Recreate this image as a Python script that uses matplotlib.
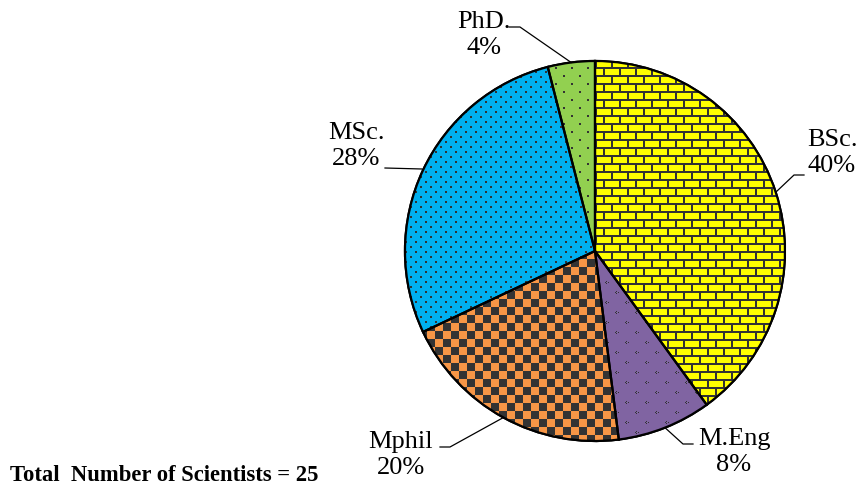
import numpy as np
import matplotlib
matplotlib.use("Agg")
import matplotlib.pyplot as plt

# ---- data ----
categories = ["BSc.", "M.Eng", "Mphil", "MSc.", "PhD."]
counts = [10, 2, 5, 7, 1]
pct_labels = ["40%", "8%", "20%", "28%", "4%"]
colors = ["#FFFF00", "#8064A2", "#F79646", "#00B0F0", "#92D050"]
total_text = "Total  Number of Scientists = 25"

W_PX, H_PX = 861, 489
DPI = 100
CX, CY, R = 595, 252, 190       # pie centre / radius in pixels
HALF = 200                      # half size of axes box in pixels

fig = plt.figure(figsize=(W_PX / DPI, H_PX / DPI), dpi=DPI)
ax = fig.add_axes([(CX - HALF) / W_PX, (H_PX - CY - HALF) / H_PX,
                   2 * HALF / W_PX, 2 * HALF / H_PX])
ax.axis("off")
lim = HALF / R

SERIF = ["Liberation Serif", "DejaVu Serif"]

wedges, _ = ax.pie(counts, colors=colors, startangle=90, counterclock=False,
                   radius=1, wedgeprops=dict(edgecolor="black", linewidth=1.6))

# ---- textures ----
N = 2 * HALF
yy, xx = np.mgrid[0:N, 0:N]
DARK = np.array([0.2, 0.2, 0.2])


def hex2rgb(h):
    h = h.lstrip("#")
    return np.array([int(h[i:i + 2], 16) / 255 for i in (0, 2, 4)])


def brick():
    off = ((yy // 8) % 2) * 8
    return ((yy % 8) < 2) | (((xx + off) % 16) < 2)


def chevrons():
    m = np.zeros((N, N), bool)
    shape = [(0, 1), (1, 0), (2, 1), (1, 3)]
    for (dy, dx) in shape:
        for oy, ox in [(0, 0), (10, 10)]:
            m |= (((yy - dy - oy) % 20) == 0) & (((xx - dx - ox) % 20) == 0)
    return m


def checker():
    return ((xx // 8 + yy // 8) % 2) == 0


def dense_dots():
    off = ((yy // 5) % 2) * 5
    return ((yy % 5) < 2) & (((xx + off) % 10) < 2)


def sparse_dots():
    off = ((yy // 8) % 2) * 8
    return ((yy % 8) < 2) & (((xx + off) % 16) < 2)


masks = [brick(), chevrons(), checker(), dense_dots(), sparse_dots()]

for w, col, m in zip(wedges, colors, masks):
    img = np.empty((N, N, 3))
    img[:] = hex2rgb(col)
    img[m] = DARK
    im = ax.imshow(img, extent=(-lim, lim, -lim, lim), interpolation="nearest",
                   zorder=1.5)
    im.set_clip_path(w)

# outlines on top
outline, _ = ax.pie(counts, startangle=90, counterclock=False, radius=1,
                    wedgeprops=dict(fill=False, edgecolor="black", linewidth=1.6))
for p in outline:
    p.set_zorder(3)

# ---- labels with leader lines ----
def px2d(px, py):
    return (px - CX) / R, (CY - py) / R

# (elbow, end, text centre) in pixel layout
layout = [
    ((794, 176), (804, 176), (832, 153)),
    ((683, 445), (693, 445), (734, 452)),
    ((450, 448), (440, 448), (401, 455)),
    ((422, 170), (385, 169), (356, 146)),
    ((520, 28), (509, 28), (484, 35)),
]

for w, cat, pct, (elb, end, tc) in zip(wedges, categories, pct_labels, layout):
    mid = np.radians((w.theta1 + w.theta2) / 2)
    sx, sy = np.cos(mid), np.sin(mid)
    ex, ey = px2d(*elb)
    nx, ny = px2d(*end)
    ax.plot([sx, ex, nx], [sy, ey, ny], color="black", lw=0.9, zorder=4,
            clip_on=False)
    tx, ty = px2d(*tc)
    ax.text(tx, ty, f"{cat}\n{pct}", ha="center", va="center", fontsize=19,
            linespacing=1.2, family=SERIF, clip_on=False)

ax.set_xlim(-lim, lim)
ax.set_ylim(-lim, lim)

fig.text(10 / W_PX, 1 - 476 / H_PX, total_text, ha="left", va="center",
         fontsize=16.3, fontweight="bold", family=SERIF)

fig.savefig("out.png", dpi=DPI)
